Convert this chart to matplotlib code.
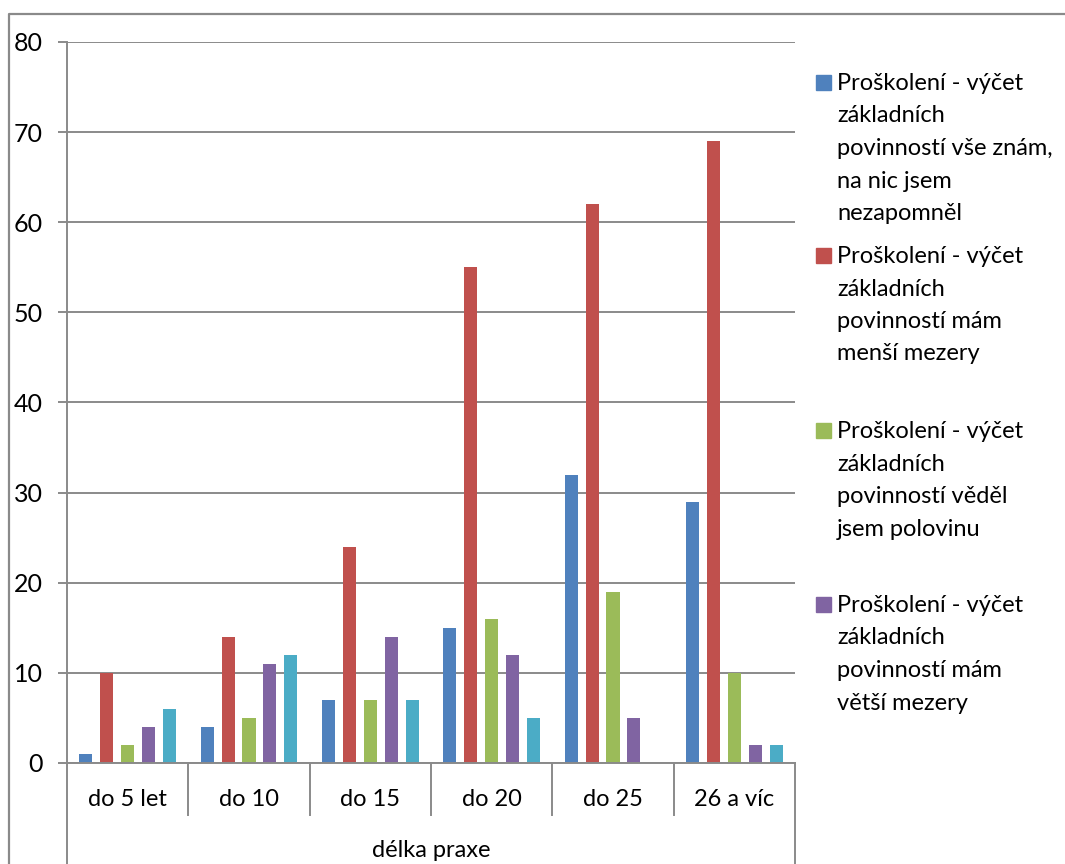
import numpy as np
import matplotlib
matplotlib.use('Agg')
import matplotlib.pyplot as plt
from matplotlib.lines import Line2D
from matplotlib.patches import Rectangle
from matplotlib.transforms import blended_transform_factory

# -- Data --
categories = ["do 5 let", "do 10", "do 15", "do 20", "do 25", "26 a víc"]
vse_znam = [1, 4, 7, 15, 32, 29]
mensi_mezery = [10, 14, 24, 55, 62, 69]
polovinu = [2, 5, 7, 16, 19, 10]
vetsi_mezery = [4, 11, 14, 12, 5, 2]
nevedel = [6, 12, 7, 5, 0, 2]

series = [vse_znam, mensi_mezery, polovinu, vetsi_mezery, nevedel]
legend_labels = [
    "Proškolení - výčet\nzákladních\npovinností vše znám,\nna nic jsem\nnezapomněl",
    "Proškolení - výčet\nzákladních\npovinností mám\nmenší mezery",
    "Proškolení - výčet\nzákladních\npovinností věděl\njsem polovinu",
    "Proškolení - výčet\nzákladních\npovinností mám\nvětší mezery",
]
axis_title = "délka praxe"

COLORS = ['#4F81BD', '#C0504D', '#9BBB59', '#8064A2', '#4BACC6']
GRID = '#8a8a8a'

W, H = 1065, 864
plt.rcParams['font.family'] = ['Lato', 'DejaVu Sans']
FS = 17

fig = plt.figure(figsize=(W / 100, H / 100), dpi=100)


def fx(px):
    return px / W


def fy(py):
    return 1 - py / H


ax = fig.add_axes([fx(67), fy(763), fx(795) - fx(67), fy(42) - fy(763)])

x = np.arange(len(categories))
step, bw = 0.1725, 0.108
for i, vals in enumerate(series):
    ax.bar(x + (i - 2) * step, vals, width=bw, color=COLORS[i], zorder=3)

ax.set_xlim(-0.5, len(categories) - 0.5)
ax.set_ylim(0, 80)
ax.set_yticks(range(0, 81, 10))
ax.yaxis.grid(True, color=GRID, lw=1.4, zorder=0)
ax.tick_params(axis='y', direction='out', length=6.5, width=1.4, color=GRID,
               pad=11, labelsize=FS + 1)
ax.set_xticks([])
for side in ['top', 'right', 'bottom']:
    ax.spines[side].set_visible(False)
ax.spines['left'].set_color(GRID)
ax.spines['left'].set_linewidth(1.4)

# category labels and separators below the plot
bt = blended_transform_factory(ax.transData, fig.transFigure)
for i, cat in enumerate(categories):
    fig.text(i, fy(806), cat, transform=bt, ha='center', va='baseline', fontsize=FS)
for b in np.arange(-0.5, len(categories), 1.0):
    outer = b in (-0.5, len(categories) - 0.5)
    y0 = fy(864) if outer else fy(815)
    fig.add_artist(Line2D([b, b], [y0, fy(763)], transform=bt, color=GRID, lw=1.4))
fig.add_artist(Line2D([-0.5, len(categories) - 0.5], [fy(763), fy(763)],
                      transform=bt, color=GRID, lw=1.4))
fig.text(fx(431), fy(857), axis_title, ha='center', va='baseline', fontsize=FS)

# chart frame
fig.add_artist(Line2D([fx(8.7), fx(8.7), 1.0], [0.0, fy(14), fy(14)],
                      transform=fig.transFigure, color=GRID, lw=1.6))

# legend (four entries)
entry_base = [90, 263, 438, 612]
line_step = 32.5
for i, lab in enumerate(legend_labels):
    yb = entry_base[i]
    fig.add_artist(Rectangle((fx(816), fy(yb)), fx(15), 15 / H,
                             transform=fig.transFigure, color=COLORS[i]))
    for j, line in enumerate(lab.split('\n')):
        fig.text(fx(837), fy(yb + j * line_step), line, ha='left',
                 va='baseline', fontsize=FS)

fig.savefig('out.png', dpi=100)
